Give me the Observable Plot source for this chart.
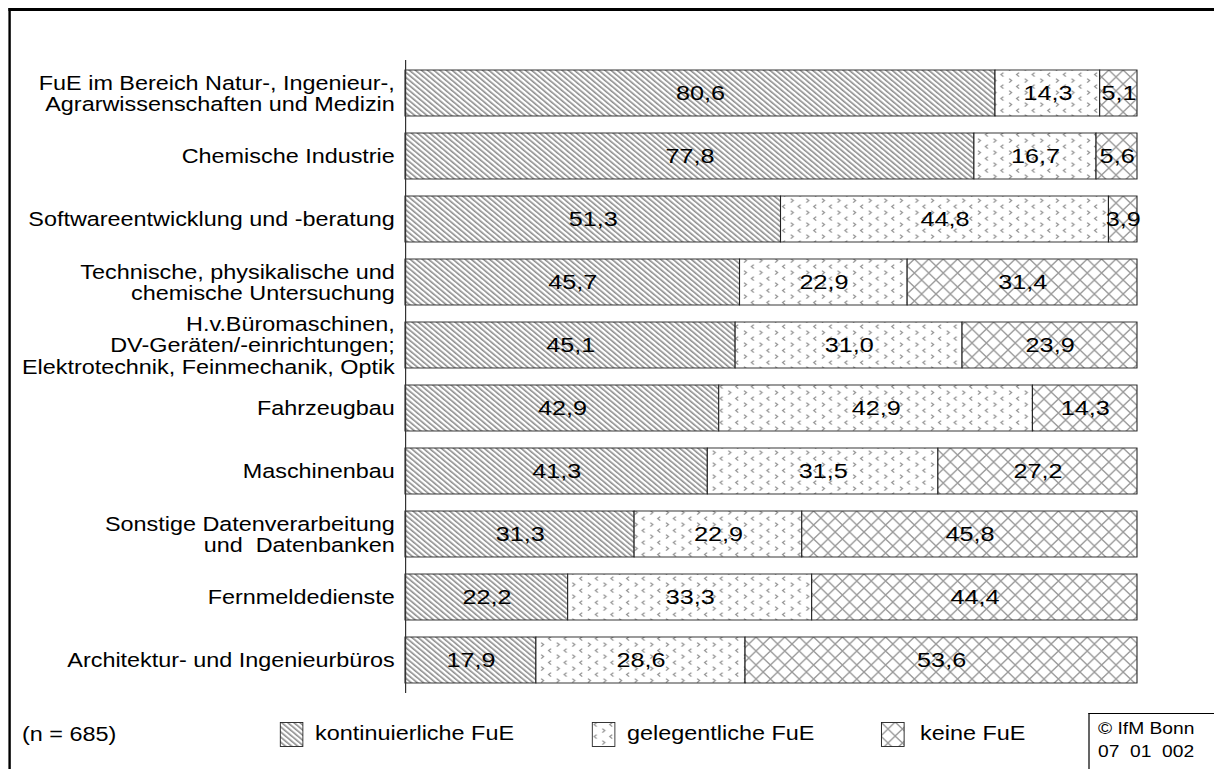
<!DOCTYPE html>
<html>
<head>
<meta charset="utf-8">
<script src="https://cdn.jsdelivr.net/npm/d3@7"></script>
<script src="https://cdn.jsdelivr.net/npm/@observablehq/plot@0.6"></script>
<style>
  html, body { margin: 0; padding: 0; background: #fff; overflow: hidden; }
  body { font-family: "Liberation Sans", Arial, sans-serif; color: #000; }
  #page { position: relative; width: 1012px; height: 769px; transform: scaleX(1.2); transform-origin: 0 0; }
  #frame { position: absolute; left: 6.7px; top: 8px; width: 1200px; height: 900px; border-left: 2.5px solid #000; border-top: 3px solid #000; box-sizing: border-box; }
  #chart { position: absolute; left: 0; top: 0; }
  #legend { position: absolute; left: 0; top: 700px; width: 1012px; height: 69px; font-size: 19.5px; }
  .lg { position: absolute; white-space: nowrap; line-height: 1; }
  .sw { position: absolute; }
  #src { position: absolute; border-left: 1.5px solid #000; border-top: 1.5px solid #000; width: 200px; height: 100px; font-size: 16px; line-height: 23px; padding: 3px 0 0 7.5px; box-sizing: border-box; white-space: pre; }
</style>
</head>
<body>
<svg width="0" height="0" style="position:absolute">
  <defs>
    <pattern id="pk" width="3.6" height="3.6" patternUnits="userSpaceOnUse" patternTransform="rotate(-45)">
      <rect width="3.6" height="3.6" fill="#fff"/>
      <rect x="0" y="0" width="1.45" height="3.6" fill="#8c8c8c"/>
    </pattern>
    <pattern id="pg" width="13" height="12" patternUnits="userSpaceOnUse">
      <rect width="13" height="12" fill="#fff"/>
      <path d="M4.2,0.6L2.2,2.6L4.2,4.6M9.0,6.6L11.0,8.6L9.0,10.6" fill="none" stroke="#949494" stroke-width="1.2"/>
    </pattern>
    <pattern id="px" width="12" height="14" patternUnits="userSpaceOnUse">
      <rect width="12" height="14" fill="#fff"/>
      <path d="M0,0L12,14M12,0L0,14" fill="none" stroke="#9a9a9a" stroke-width="1.2"/>
    </pattern>
  </defs>
</svg>
<div id="page">
  <div id="frame"></div>
  <div id="chart"></div>
  <div id="legend"></div>
</div>
<script>
// ---- data ----
const categories = [
  "FuE im Bereich Natur-, Ingenieur-,\nAgrarwissenschaften und Medizin",
  "Chemische Industrie",
  "Softwareentwicklung und -beratung",
  "Technische, physikalische und\nchemische Untersuchung",
  "H.v.Büromaschinen,\nDV-Geräten/-einrichtungen;\nElektrotechnik, Feinmechanik, Optik",
  "Fahrzeugbau",
  "Maschinenbau",
  "Sonstige Datenverarbeitung\nund  Datenbanken",
  "Fernmeldedienste",
  "Architektur- und Ingenieurbüros"
];
const kontinuierlich = [80.6, 77.8, 51.3, 45.7, 45.1, 42.9, 41.3, 31.3, 22.2, 17.9];
const gelegentlich   = [14.3, 16.7, 44.8, 22.9, 31.0, 42.9, 31.5, 22.9, 33.3, 28.6];
const keine          = [5.1, 5.6, 3.9, 31.4, 23.9, 14.3, 27.2, 45.8, 44.4, 53.6];
const seriesNames = ["kontinuierliche FuE", "gelegentliche FuE", "keine FuE"];
const patternFills = ["url(#pk)", "url(#pg)", "url(#px)"];
const sampleNote = "(n = 685)";
const sourceNote = "© IfM Bonn\n07  01  002";

// ---- table ----
const seriesValues = [kontinuierlich, gelegentlich, keine];
const rows = [];
categories.forEach((c, i) => {
  seriesNames.forEach((s, j) => rows.push({cat: c, series: s, value: seriesValues[j][i]}));
});
const fmt = v => d3.format(".1f")(v).replace(".", ",");

const chart = Plot.plot({
  width: 1012,
  height: 700,
  marginLeft: 337.5,
  marginRight: 64.5,
  marginTop: 60,
  marginBottom: 7,
  style: {fontFamily: "'Liberation Sans', Arial, sans-serif", background: "transparent", overflow: "visible"},
  x: {domain: [0, 1], axis: null},
  y: {domain: categories, axis: null, paddingInner: 0.27, paddingOuter: 0.14},
  color: {domain: seriesNames, range: patternFills},
  marks: [
    Plot.barX(rows, Plot.stackX({
      offset: "normalize", order: seriesNames,
      x: "value", y: "cat", z: "series", fill: "series",
      stroke: "#222", strokeWidth: 0.9, inset: 0
    })),
    Plot.text(rows, Plot.stackX({
      offset: "normalize", order: seriesNames,
      x: "value", y: "cat", z: "series",
      text: d => fmt(d.value), fontSize: 21, fill: "#000"
    })),
    Plot.text(categories, {
      x: 0, y: d => d, text: d => d, textAnchor: "end", dx: -9,
      fontSize: 19.5, lineHeight: 1.1, fill: "#000"
    }),
    Plot.ruleX([0], {stroke: "#333", strokeWidth: 1})
  ]
});
document.getElementById("chart").appendChild(chart);

// ---- legend (below the SVG) ----
const legend = document.getElementById("legend");
const n = document.createElement("div");
n.className = "lg"; n.textContent = sampleNote;
n.style.left = "18.3px"; n.style.top = "25px";
legend.appendChild(n);

const swX = [233.3, 493.3, 734.2];
const txX = [262.5, 522.5, 766.7];
seriesNames.forEach((s, j) => {
  const ns = "http://www.w3.org/2000/svg";
  const sw = document.createElementNS(ns, "svg");
  sw.setAttribute("width", 20); sw.setAttribute("height", 25);
  sw.setAttribute("class", "sw");
  sw.style.left = swX[j] + "px"; sw.style.top = "21.5px";
  const r = document.createElementNS(ns, "rect");
  r.setAttribute("x", 0.5); r.setAttribute("y", 0.5);
  r.setAttribute("width", 19); r.setAttribute("height", 24);
  r.setAttribute("fill", patternFills[j]); r.setAttribute("stroke", "#222"); r.setAttribute("stroke-width", 0.9);
  sw.appendChild(r);
  legend.appendChild(sw);
  const t = document.createElement("div");
  t.className = "lg"; t.textContent = s;
  t.style.left = txX[j] + "px"; t.style.top = "24px";
  legend.appendChild(t);
});
const src = document.createElement("div");
src.id = "src"; src.textContent = sourceNote;
src.style.left = "906.5px"; src.style.top = "13px";
legend.appendChild(src);
</script>
</body>
</html>
